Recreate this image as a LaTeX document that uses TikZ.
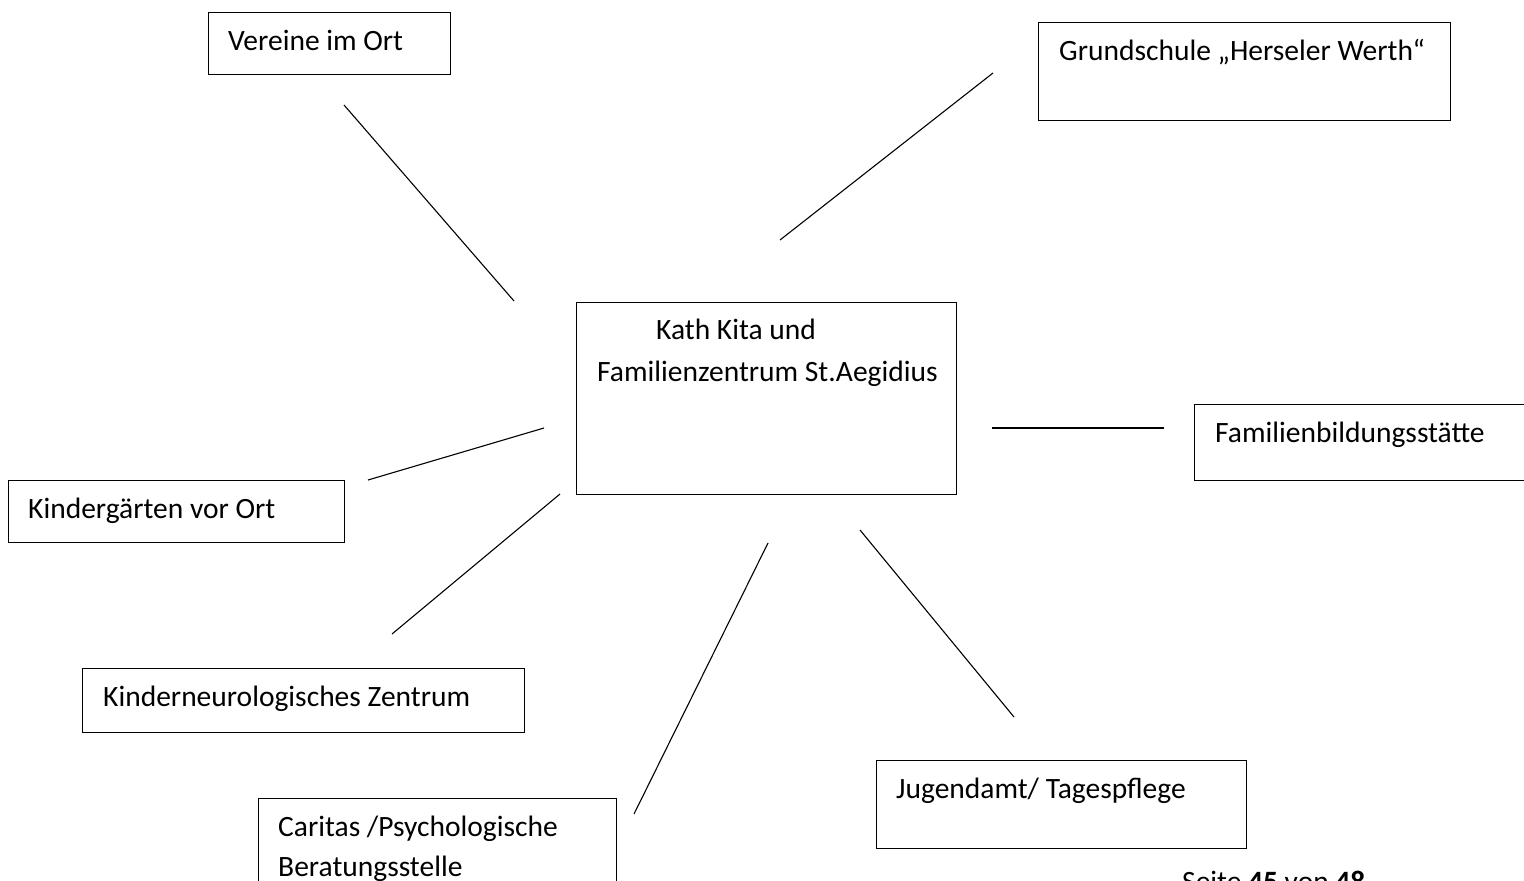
\documentclass[tikz,border=0pt]{standalone}
\usepackage{fontspec}
\setmainfont{Carlito}
\begin{document}
\begin{tikzpicture}[x=1pt,y=-1pt,
  box/.style={draw=black,line width=1pt,inner sep=0pt,anchor=north west},
  lbl/.style={anchor=base west,inner sep=0pt,font=\fontsize{29.5}{34}\selectfont,text=black},
  link/.style={draw=black,line width=1.1pt}]
\useasboundingbox (0,0) rectangle (1524,881);
\clip (0,0) rectangle (1524,881);
\fill[white] (0,0) rectangle (1524,881);
% boxes
\node[box,minimum width=242pt,minimum height=62pt] (vb) at (208,12) {};
\node[box,minimum width=412pt,minimum height=98pt] (gb) at (1038,22) {};
\node[box,minimum width=380pt,minimum height=192pt] (cb) at (576,302) {};
\node[box,minimum width=340pt,minimum height=76pt] (fb) at (1194,404) {};
\node[box,minimum width=336pt,minimum height=62pt] (kb) at (8,480) {};
\node[box,minimum width=442pt,minimum height=64pt] (nb) at (82,668) {};
\node[box,minimum width=358pt,minimum height=120pt] (cab) at (258,798) {};
\node[box,minimum width=370pt,minimum height=88pt] (jb) at (876,760) {};
% texts
\node[lbl] (vt) at (228,50) {Vereine im Ort};
\node[lbl] (gt) at (1059,60) {Grundschule „Herseler Werth“};
\node[lbl] (ct1) at (656,339) {Kath Kita und};
\node[lbl] (ct2) at (597,381) {Familienzentrum St.Aegidius};
\node[lbl] (ft) at (1215,442) {Familienbildungsstätte};
\node[lbl] (kt) at (28,518) {Kindergärten vor Ort};
\node[lbl] (nt) at (103,706) {Kinderneurologisches Zentrum};
\node[lbl] (cat1) at (278,836) {Caritas /Psychologische};
\node[lbl] (cat2) at (278,876) {Beratungsstelle};
\node[lbl] (jt) at (896,798) {Jugendamt/ Tagespflege};
\node[lbl] (st) at (1182,891) {Seite \textbf{45} von \textbf{48}};
% connector ends
\coordinate (v1) at (344,105); \coordinate (v2) at (514,301);
\coordinate (g1) at (780,240); \coordinate (g2) at (993,73);
\coordinate (f1) at (992,428); \coordinate (f2) at (1164,428);
\coordinate (k1) at (368,480); \coordinate (k2) at (544,428);
\coordinate (n1) at (392,634); \coordinate (n2) at (560,494);
\coordinate (c1) at (634,814); \coordinate (c2) at (768,543);
\coordinate (j1) at (860,530); \coordinate (j2) at (1014,717);
\draw[link] (v1) -- (v2);
\draw[link] (g1) -- (g2);
\draw[link] (f1) -- (f2);
\draw[link] (k1) -- (k2);
\draw[link] (n1) -- (n2);
\draw[link] (c1) -- (c2);
\draw[link] (j1) -- (j2);
\end{tikzpicture}
\end{document}
